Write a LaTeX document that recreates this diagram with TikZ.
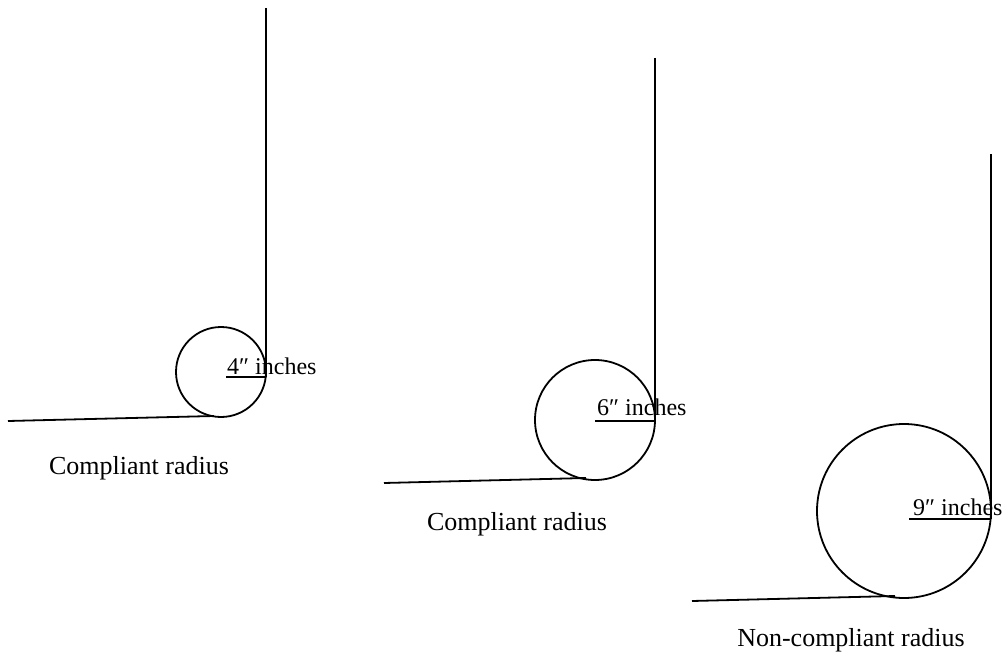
\documentclass[tikz,border=0pt]{standalone}
\usepackage{fontspec}
\setmainfont{Liberation Serif}
\begin{document}
\begin{tikzpicture}[x=1pt,y=-1pt,
  ln/.style={line width=1.8pt},
  ring/.style={circle,draw,line width=1.8pt,inner sep=0pt},
  lbl/.style={inner sep=0pt,font=\fontsize{24}{29}\selectfont},
  captext/.style={inner sep=0pt,font=\fontsize{26}{31}\selectfont}]
\useasboundingbox (0,0) rectangle (1007,661);
% group 1
\node[ring,minimum size=90pt] (c1) at (221,372) {};
\coordinate (v1t) at (266,8);
\coordinate (v1b) at (266,377);
\coordinate (r1) at (226,377);
\coordinate (h1l) at (8,421);
\coordinate (h1r) at (214,416);
\draw[ln] (v1t) -- (v1b);
\draw[ln] (r1) -- (v1b);
\draw[ln] (h1l) -- (h1r);
\node[lbl,anchor=base west] (t1) at (227,374) {4″ inches};
\node[captext] (k1) at (139,468) {Compliant radius};
% group 2
\node[ring,minimum size=120pt] (c2) at (595,420) {};
\coordinate (v2t) at (655,58);
\coordinate (v2b) at (655,421);
\coordinate (r2) at (595,421);
\coordinate (h2l) at (384,483);
\coordinate (h2r) at (586,478);
\draw[ln] (v2t) -- (v2b);
\draw[ln] (r2) -- (v2b);
\draw[ln] (h2l) -- (h2r);
\node[lbl,anchor=base west] (t2) at (597,415) {6″ inches};
\node[captext] (k2) at (517,524) {Compliant radius};
% group 3
\node[ring,minimum size=174pt] (c3) at (904,511) {};
\coordinate (v3t) at (991,154);
\coordinate (v3b) at (991,519);
\coordinate (r3) at (909,519);
\coordinate (h3l) at (692,601);
\coordinate (h3r) at (895,596);
\draw[ln] (v3t) -- (v3b);
\draw[ln] (r3) -- (v3b);
\draw[ln] (h3l) -- (h3r);
\node[lbl,anchor=base west] (t3) at (913,515) {9″ inches};
\node[captext] (k3) at (851,640) {Non-compliant radius};
\end{tikzpicture}
\end{document}
